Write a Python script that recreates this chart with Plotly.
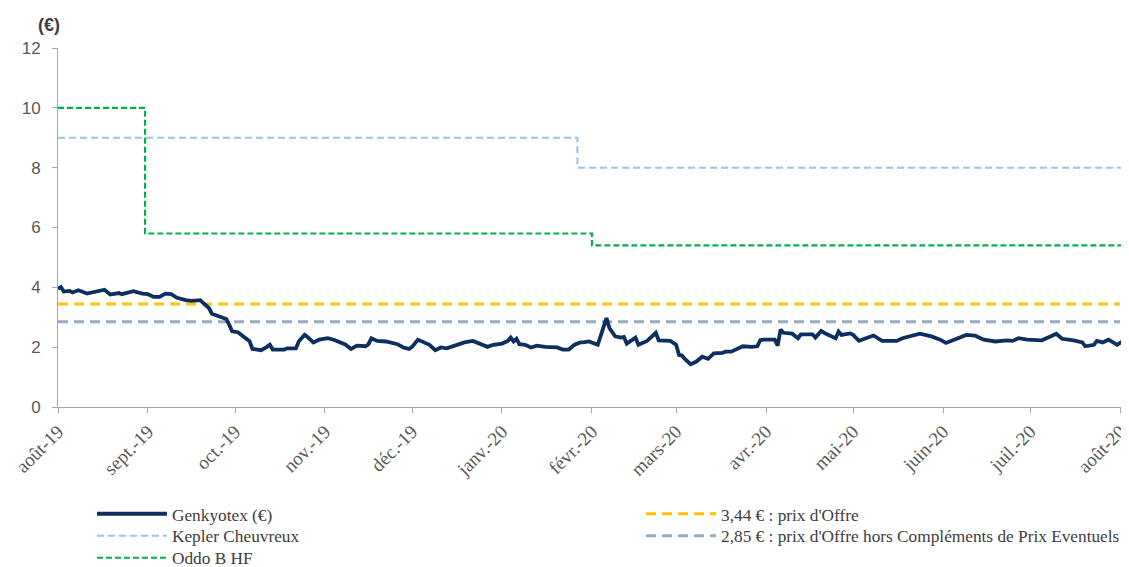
import plotly.graph_objects as go

# ---- data ----
price_dates = [
    "2019-08-01", "2019-08-02", "2019-08-03", "2019-08-05", "2019-08-06", "2019-08-08",
    "2019-08-11", "2019-08-14", "2019-08-17", "2019-08-19", "2019-08-22", "2019-08-23",
    "2019-08-25", "2019-08-27", "2019-08-30", "2019-09-01", "2019-09-03", "2019-09-05",
    "2019-09-07", "2019-09-09", "2019-09-11", "2019-09-14", "2019-09-16", "2019-09-19",
    "2019-09-20", "2019-09-22", "2019-09-23", "2019-09-26", "2019-09-28", "2019-09-29",
    "2019-09-30", "2019-10-02", "2019-10-04", "2019-10-06", "2019-10-07", "2019-10-10",
    "2019-10-12", "2019-10-13", "2019-10-14", "2019-10-18", "2019-10-19", "2019-10-22",
    "2019-10-23", "2019-10-25", "2019-10-26", "2019-10-28", "2019-10-30", "2019-11-02",
    "2019-11-04", "2019-11-08", "2019-11-10", "2019-11-12", "2019-11-15", "2019-11-16",
    "2019-11-17", "2019-11-19", "2019-11-22", "2019-11-26", "2019-11-28", "2019-11-30",
    "2019-12-01", "2019-12-03", "2019-12-04", "2019-12-07", "2019-12-09", "2019-12-11",
    "2019-12-13", "2019-12-16", "2019-12-19", "2019-12-22", "2019-12-24", "2019-12-27",
    "2019-12-29", "2020-01-01", "2020-01-03", "2020-01-04", "2020-01-05", "2020-01-06",
    "2020-01-07", "2020-01-09", "2020-01-11", "2020-01-13", "2020-01-16", "2020-01-20",
    "2020-01-22", "2020-01-24", "2020-01-26", "2020-01-28", "2020-01-29", "2020-01-31",
    "2020-02-03", "2020-02-04", "2020-02-05", "2020-02-06", "2020-02-07", "2020-02-09",
    "2020-02-11", "2020-02-12", "2020-02-13", "2020-02-16", "2020-02-17", "2020-02-20",
    "2020-02-23", "2020-02-24", "2020-02-28", "2020-03-01", "2020-03-02", "2020-03-03",
    "2020-03-04", "2020-03-06", "2020-03-08", "2020-03-10", "2020-03-12", "2020-03-14",
    "2020-03-17", "2020-03-18", "2020-03-20", "2020-03-22", "2020-03-24", "2020-03-27",
    "2020-03-29", "2020-03-30", "2020-03-31", "2020-04-04", "2020-04-05", "2020-04-06",
    "2020-04-07", "2020-04-10", "2020-04-12", "2020-04-13", "2020-04-17", "2020-04-18",
    "2020-04-20", "2020-04-22", "2020-04-25", "2020-04-26", "2020-04-27", "2020-04-30",
    "2020-05-01", "2020-05-03", "2020-05-05", "2020-05-08", "2020-05-11", "2020-05-15",
    "2020-05-16", "2020-05-18", "2020-05-20", "2020-05-24", "2020-05-28", "2020-05-31",
    "2020-06-02", "2020-06-05", "2020-06-09", "2020-06-12", "2020-06-15", "2020-06-19",
    "2020-06-23", "2020-06-25", "2020-06-27", "2020-06-30", "2020-07-05", "2020-07-08",
    "2020-07-10", "2020-07-12", "2020-07-16", "2020-07-19", "2020-07-20", "2020-07-23",
    "2020-07-24", "2020-07-26", "2020-07-28", "2020-07-31", "2020-08-02",
]
genkyotex = [
    3.95, 4.01, 3.86, 3.88, 3.83, 3.90,
    3.79, 3.86, 3.92, 3.76, 3.81, 3.77,
    3.83, 3.87, 3.79, 3.77, 3.68, 3.68,
    3.79, 3.77, 3.65, 3.57, 3.55, 3.57,
    3.48, 3.31, 3.12, 3.01, 2.94, 2.75,
    2.53, 2.50, 2.36, 2.20, 1.94, 1.90,
    2.01, 2.08, 1.92, 1.92, 1.96, 1.96,
    2.20, 2.41, 2.34, 2.16, 2.25, 2.30,
    2.25, 2.09, 1.94, 2.05, 2.03, 2.10,
    2.30, 2.21, 2.19, 2.10, 1.99, 1.94,
    2.01, 2.25, 2.21, 2.08, 1.90, 1.99,
    1.96, 2.05, 2.16, 2.21, 2.14, 2.01,
    2.08, 2.12, 2.21, 2.32, 2.19, 2.28,
    2.10, 2.08, 1.99, 2.05, 2.01, 1.99,
    1.92, 1.92, 2.08, 2.16, 2.16, 2.19,
    2.08, 2.36, 2.68, 2.97, 2.64, 2.36,
    2.32, 2.34, 2.12, 2.32, 2.08, 2.21,
    2.48, 2.23, 2.21, 2.08, 1.74, 1.72,
    1.61, 1.43, 1.52, 1.68, 1.61, 1.79,
    1.81, 1.85, 1.85, 1.94, 2.03, 2.01,
    2.03, 2.23, 2.25, 2.25, 2.05, 2.59,
    2.48, 2.45, 2.30, 2.43, 2.43, 2.32,
    2.54, 2.43, 2.30, 2.52, 2.41, 2.46,
    2.41, 2.21, 2.28, 2.39, 2.21, 2.23,
    2.21, 2.30, 2.36, 2.45, 2.36, 2.25,
    2.14, 2.25, 2.41, 2.39, 2.25, 2.19,
    2.23, 2.21, 2.30, 2.25, 2.23, 2.36,
    2.45, 2.28, 2.23, 2.16, 2.03, 2.08,
    2.21, 2.16, 2.25, 2.08, 2.21,
]

kepler_dates = ["2019-08-01", "2020-01-27", "2020-08-02"]
kepler_targets = [9.0, 8.0, 8.0]

oddo_dates = ["2019-08-01", "2019-08-31", "2020-02-01", "2020-08-02"]
oddo_targets = [10.0, 5.8, 5.4, 5.4]

offer_dates = ["2019-08-01", "2020-08-01"]
offer_price = [3.44, 3.44]
offer_price_ex_cpe = [2.85, 2.85]

month_ticks = [
    "2019-08-01", "2019-09-01", "2019-10-01", "2019-11-01", "2019-12-01",
    "2020-01-01", "2020-02-01", "2020-03-01", "2020-04-01", "2020-05-01",
    "2020-06-01", "2020-07-01", "2020-08-01",
]
month_labels = [
    "août-19", "sept.-19", "oct.-19", "nov.-19", "déc.-19", "janv.-20",
    "févr.-20", "mars-20", "avr.-20", "mai-20", "juin-20", "juil.-20", "août-20",
]

# ---- figure ----
fig = go.Figure()

fig.add_trace(go.Scatter(
    x=kepler_dates, y=kepler_targets, mode="lines", line_shape="hv",
    name="Kepler Cheuvreux", legend="legend2",
    line=dict(color="#99C2EC", width=2, dash="7px,4px"),
))
fig.add_trace(go.Scatter(
    x=oddo_dates, y=oddo_targets, mode="lines", line_shape="hv",
    name="Oddo B HF", legend="legend3",
    line=dict(color="#00B050", width=2.2, dash="6px,3px"),
))
fig.add_trace(go.Scatter(
    x=offer_dates, y=offer_price_ex_cpe, mode="lines",
    name="2,85 € : prix d'Offre hors Compléments de Prix Eventuels",
    legend="legend5",
    line=dict(color="#96AAC1", width=3, dash="10px,6px"),
))
fig.add_trace(go.Scatter(
    x=offer_dates, y=offer_price, mode="lines",
    name="3,44 € : prix d'Offre", legend="legend4",
    line=dict(color="#FFC000", width=3, dash="10px,6px"),
))
fig.add_trace(go.Scatter(
    x=price_dates, y=genkyotex, mode="lines",
    name="Genkyotex (€)", legend="legend",
    line=dict(color="#0D2F5F", width=3.8),
))

legend_font = dict(family="Liberation Serif", size=17.3, color="#404040")


def legend_box(x, y):
    return dict(
        orientation="h", xref="container", yref="container",
        x=x, y=y, xanchor="left", yanchor="middle",
        itemwidth=70, font=legend_font, bgcolor="rgba(0,0,0,0)",
    )


axis_color = "#A6A6A6"
fig.update_layout(
    width=1121, height=559,
    margin=dict(l=50, r=6, t=40, b=160),
    paper_bgcolor="white", plot_bgcolor="white",
    showlegend=True,
    legend=legend_box(0.0749, 0.0948),
    legend2=legend_box(0.0749, 0.0555),
    legend3=legend_box(0.0749, 0.0161),
    legend4=legend_box(0.5647, 0.0948),
    legend5=legend_box(0.5647, 0.0555),
    xaxis=dict(
        type="date", range=["2019-08-01", "2020-08-02"],
        tickvals=month_ticks, ticktext=month_labels, tickangle=-45,
        ticklabeloverflow="allow",
        showline=True, linecolor=axis_color, linewidth=1,
        ticks="outside", ticklen=5, tickcolor=axis_color,
        showgrid=False, zeroline=False, automargin=False,
        tickfont=dict(family="Liberation Serif", size=19, color="#595959"),
    ),
    yaxis=dict(
        range=[0, 12], dtick=2, tick0=0,
        showline=True, linecolor=axis_color, linewidth=1,
        ticks="outside", ticklen=5, tickcolor=axis_color,
        ticklabelstandoff=8,
        showgrid=False, zeroline=False, automargin=False,
        tickfont=dict(family="Liberation Sans", size=17, color="#595959"),
    ),
    annotations=[dict(
        text="<b>(€)</b>", xref="paper", yref="paper", x=-0.008, y=1.064,
        xanchor="center", yanchor="middle", showarrow=False,
        font=dict(family="Liberation Sans", size=18, color="#404040"),
    )],
)

fig.write_html("out.html")
